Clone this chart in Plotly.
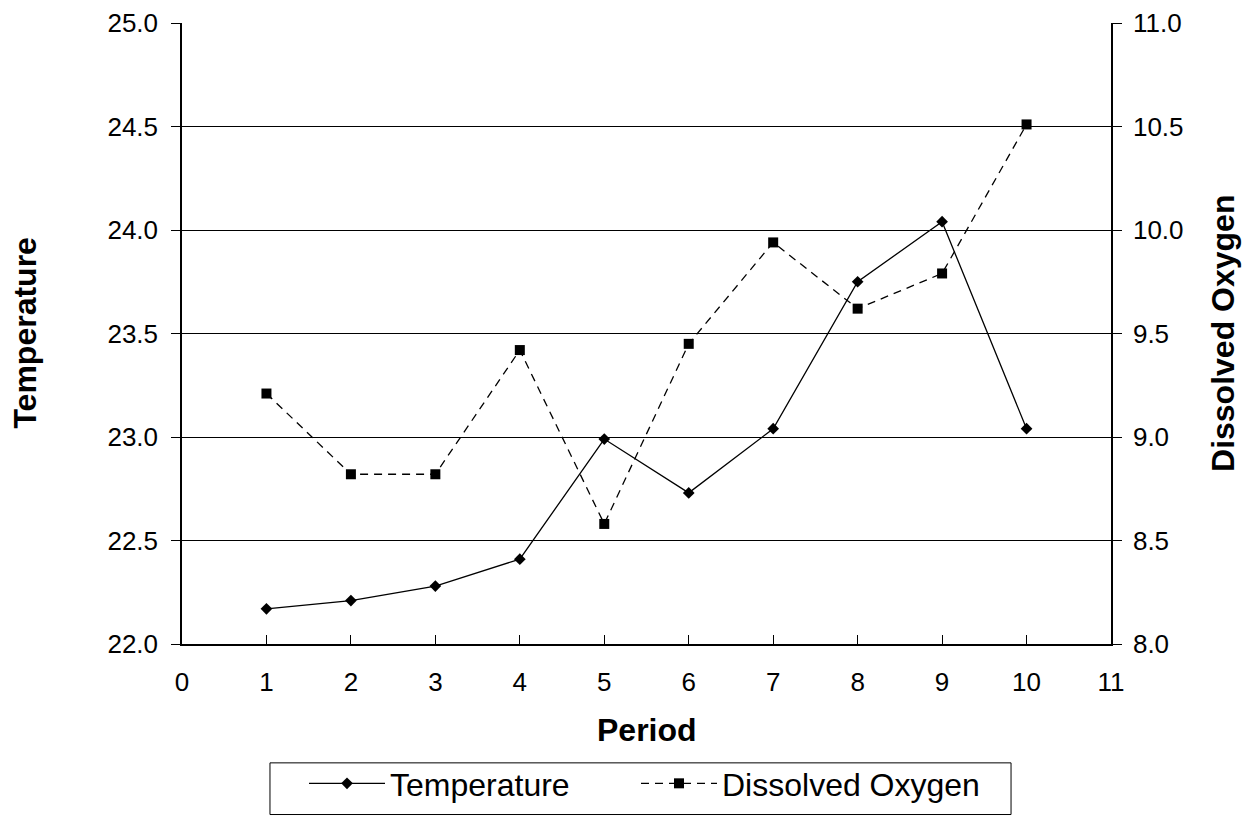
import plotly.graph_objects as go

period = [1, 2, 3, 4, 5, 6, 7, 8, 9, 10]
temperature = [22.17, 22.21, 22.28, 22.41, 22.99, 22.73, 23.04, 23.75, 24.04, 23.04]
dissolved_oxygen = [9.21, 8.82, 8.82, 9.42, 8.58, 9.45, 9.94, 9.62, 9.79, 10.51]

FONT = "Liberation Sans, Arial, sans-serif"

fig = go.Figure()
fig.add_trace(go.Scatter(
    x=period, y=temperature, name="Temperature", mode="lines+markers",
    line=dict(color="black", width=1.3),
    marker=dict(symbol="diamond", size=9, color="black", line=dict(width=0)),
    yaxis="y", legend="legend"))
fig.add_trace(go.Scatter(
    x=period, y=dissolved_oxygen, name="Dissolved Oxygen", mode="lines+markers",
    line=dict(color="black", width=1.3, dash="8px,6px"),
    marker=dict(symbol="square", size=10, color="black", line=dict(width=0)),
    yaxis="y2", legend="legend2"))

legend_common = dict(orientation="h", xref="container", yref="container",
                     y=0.0735, xanchor="left", yanchor="top",
                     borderwidth=0, bgcolor="rgba(0,0,0,0)",
                     font=dict(family=FONT, size=32), itemwidth=76)

fig.update_layout(
    width=1256, height=816,
    margin=dict(l=182, r=145, t=23, b=172, autoexpand=False),
    paper_bgcolor="white", plot_bgcolor="white",
    font=dict(family=FONT, size=26, color="black"),
    showlegend=True,
    legend=dict(x=304 / 1256, **legend_common),
    legend2=dict(x=636 / 1256, **legend_common),
    xaxis=dict(range=[0, 11], dtick=1, tick0=0, ticks="inside", ticklen=9,
               tickcolor="black", showline=True, linecolor="black", linewidth=1.5,
               showgrid=False, zeroline=False, ticklabelstandoff=14,
               automargin=False, tickfont=dict(size=26)),
    yaxis=dict(range=[22, 25], dtick=0.5, tick0=22, tickformat=".1f",
               ticks="outside", ticklen=9, tickcolor="black",
               showline=True, linecolor="black", linewidth=1.5,
               showgrid=True, gridcolor="black", gridwidth=1, zeroline=False,
               ticklabelstandoff=8, automargin=False, tickfont=dict(size=26)),
    yaxis2=dict(range=[8, 11], dtick=0.5, tick0=8, tickformat=".1f",
                overlaying="y", side="right",
                ticks="outside", ticklen=9, tickcolor="black",
                showline=True, linecolor="black", linewidth=1.5,
                showgrid=False, zeroline=False,
                ticklabelstandoff=6, automargin=False, tickfont=dict(size=26)),
    shapes=[
        dict(type="rect", xref="paper", yref="paper",
             x0=0.0947, x1=0.8924, y0=-0.1914, y1=-0.2746,
             line=dict(color="black", width=1), fillcolor="rgba(0,0,0,0)",
             layer="above"),
    ],
    annotations=[
        dict(text="<b>Temperature</b>", xref="paper", yref="paper",
             x=-0.170, y=0.5, xanchor="center", yanchor="middle",
             textangle=-90, showarrow=False,
             font=dict(family=FONT, size=32)),
        dict(text="<b>Dissolved Oxygen</b>", xref="paper", yref="paper",
             x=1.120, y=0.5, xanchor="center", yanchor="middle",
             textangle=-90, showarrow=False,
             font=dict(family=FONT, size=32)),
        dict(text="<b>Period</b>", xref="paper", yref="paper",
             x=0.5, y=-0.1379, xanchor="center", yanchor="middle",
             showarrow=False,
             font=dict(family=FONT, size=32)),
    ],
)

fig.write_html("out.html")
